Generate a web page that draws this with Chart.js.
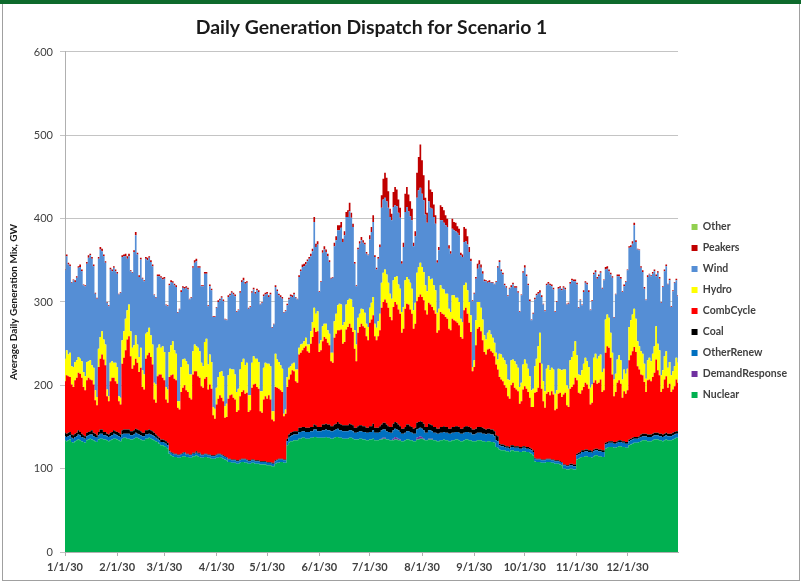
<!DOCTYPE html>
<html><head><meta charset="utf-8">
<script src="https://cdn.jsdelivr.net/npm/chart.js@4.4.1/dist/chart.umd.min.js"></script>
<style>
html,body{margin:0;padding:0;background:#fff;}
#wrap{position:relative;width:801px;height:583px;overflow:hidden;}
#bar{position:absolute;left:0;top:0;width:801px;height:4px;background:#0e6a2c;}
#frame{position:absolute;left:2px;top:4px;width:796px;height:576px;border:1px solid #a0a0a0;border-top:none;pointer-events:none;}
canvas{position:absolute;left:0;top:0;}
</style></head>
<body><div id="wrap"><canvas id="c" width="801" height="583"></canvas><div id="bar"></div><div id="frame"></div></div>
<script>
// Month tick positions (day index within 2030) and labels
const monthStarts = [0,31,59,90,120,151,181,212,243,273,304,334];
const monthLabels = ['1/1/30','2/1/30','3/1/30','4/1/30','5/1/30','6/1/30','7/1/30','8/1/30','9/1/30','10/1/30','11/1/30','12/1/30'];
const yTicks = [0,100,200,300,400,500,600];

// Daily values, GW (one row per Mon-Sun week; first row starts Tue 1/1/30)
const nuclear = [
134,133,134,135,132,131,
133,134,135,134,133,132,131,
134,135,136,135,134,133,132,
135,136,136,135,135,134,133,
134,135,136,136,135,134,133,
136,137,137,136,136,135,135,
136,137,137,136,135,134,134,
136,136,137,136,135,134,133,
132,130,128,128,127,126,124,
118,116,115,114,114,113,113,
114,115,115,114,114,113,113,
115,115,116,115,114,113,113,
114,114,113,113,112,112,112,
113,113,114,113,112,111,110,
108,108,107,107,107,106,106,
107,108,108,107,107,106,106,
107,107,106,106,106,105,105,
105,105,104,104,104,103,103,
106,107,107,108,108,107,107,
128,131,133,133,134,134,134,
136,136,137,137,136,136,136,
137,137,138,138,137,137,137,
137,137,138,137,137,136,136,
137,138,138,137,137,136,136,
136,136,137,137,136,135,135,
135,136,136,135,135,134,134,
135,135,136,134,134,134,135,
135,136,136,135,135,134,134,
134,135,135,134,134,133,133,
134,135,135,134,134,133,133,
135,135,136,136,135,134,134,
135,135,135,134,134,133,133,
134,134,135,134,134,133,133,
134,134,135,135,134,133,133,
134,135,135,134,134,133,133,
133,134,134,134,133,133,132,
133,133,132,132,131,126,125,
123,122,122,122,121,121,120,
122,122,121,121,121,120,120,
121,121,120,120,119,118,116,
109,108,108,108,107,107,107,
108,108,108,107,107,106,106,
106,105,104,100,100,99,99,
100,100,99,99,111,112,113,
114,114,115,115,114,114,113,
115,116,116,115,115,114,114,
124,125,126,126,126,125,125,
126,127,127,126,126,125,125,
128,129,130,131,131,131,132,
133,134,134,134,133,133,133,
134,135,135,135,134,134,133,
134,135,134,134,134,135,136,
137,137];

const demandResponse = [
0,0,0,0,0,0,
0,0,0,0,0,0,0, 0,0,0,0,0,0,0, 0,0,0,0,0,0,0, 0,0,0,0,0,0,0,
0,0,0,0,0,0,0, 0,0,0,0,0,0,0, 0,0,0,0,0,0,0, 0,0,0,0,0,0,0,
0,0,0,0,0,0,0, 0,0,0,0,0,0,0, 0,0,0,0,0,0,0, 0,0,0,0,0,0,0,
0,0,0,0,0,0,0, 0,0,0,0,0,0,0, 0,0,0,0,0,0,0, 0,0,0,0,0,0,0,
0,0,0,0,0,0,0, 0,0,0,0,0,0,0, 0,0,0,0,0,0,0, 0,0,0,0,0,0,0,
0,0,0,0,0,0,0, 0,0,0,0,0,0,0, 0,0,0,0,0,0,0, 0,0,0,0,0,0,0,
0,0,0,0,0,0,0, 0,0,0,0,0,0,0,
1,1,1,0,0,0,0,
2,3,2,2,1,0,0,
0,0,0,0,0,0,0,
2,3,3,2,1,0,0,
1,1,1,0,0,0,0,
0,0,0,0,0,0,0, 0,0,0,0,0,0,0, 0,0,0,0,0,0,0, 0,0,0,0,0,0,0,
0,0,0,0,0,0,0, 0,0,0,0,0,0,0, 0,0,0,0,0,0,0, 0,0,0,0,0,0,0,
0,0,0,0,0,0,0, 0,0,0,0,0,0,0, 0,0,0,0,0,0,0, 0,0,0,0,0,0,0,
0,0,0,0,0,0,0, 0,0,0,0,0,0,0, 0,0,0,0,0,0,0, 0,0,0,0,0,0,0,
0,0,0,0,0,0,0, 0,0,0,0,0,0,0, 0,0,0,0,0,0,0, 0,0,0,0,0,0,0,
0,0];

const otherRenew = [
5,5,5,5,5,5,
5,5,6,6,5,5,5,
5,5,5,6,5,5,5,
5,6,6,5,5,5,5,
5,5,6,5,5,5,5,
5,5,5,6,6,5,5,
5,6,5,5,5,5,5,
5,5,5,5,5,5,4,
4,4,4,4,4,4,4,
3,3,3,3,3,3,3,
3,3,4,3,3,3,3,
3,3,3,3,4,3,3,
3,3,3,3,3,3,3,
3,4,3,3,3,3,3,
3,3,3,3,3,3,3,
3,3,3,4,3,3,3,
3,3,3,3,3,3,3,
3,3,3,3,3,3,3,
3,3,4,3,3,3,3,
5,6,6,7,7,7,7,
8,8,8,8,8,8,8,
8,8,9,9,8,8,8,
9,9,9,9,9,9,9,
9,9,10,9,9,9,9,
9,9,9,9,9,8,8,
9,9,9,9,9,9,9,
9,9,10,9,9,9,9,
10,10,10,10,9,9,9,
10,10,10,10,9,9,9,
9,10,10,10,9,9,9,
10,10,10,10,10,9,9,
10,10,9,9,9,9,9,
9,9,9,9,9,9,9,
9,9,9,9,9,9,9,
9,9,9,9,9,8,8,
9,9,9,9,9,9,9,
9,9,9,9,8,8,8,
5,5,5,4,4,4,4,
4,4,4,4,4,4,4,
4,4,4,4,4,4,4,
3,3,3,3,3,3,3,
3,3,3,3,3,3,3,
3,3,3,4,4,4,4,
4,4,4,4,5,5,5,
6,6,6,6,6,6,6,
6,6,6,6,6,6,6,
5,5,5,5,5,5,5,
5,5,5,5,5,5,5,
5,5,5,5,5,5,5,
5,5,5,5,5,5,5,
5,5,5,5,5,5,5,
5,5,5,5,5,5,5,
5,5];

const coal = [
4,4,4,4,4,4,
4,4,5,4,4,3,3,
4,4,4,5,4,4,3,
4,5,5,4,4,3,3,
4,4,4,4,4,4,3,
5,5,5,5,5,5,5,
5,5,5,5,5,4,4,
5,5,5,5,5,4,4,
3,3,3,3,3,3,3,
1,1,1,1,1,1,1,
1,1,1,1,1,1,1,
1,1,2,1,1,1,1,
1,1,1,1,1,1,1,
1,1,1,1,1,1,1,
1,1,1,1,1,1,1,
1,1,1,1,1,1,1,
1,1,1,1,1,1,1,
1,1,1,1,1,1,1,
1,1,1,1,1,1,1,
3,4,4,4,4,4,4,
5,5,5,5,5,5,5,
5,5,6,5,5,5,5,
7,7,7,7,7,6,6,
7,7,8,8,7,7,7,
7,7,8,7,7,6,6,
7,7,7,7,7,6,6,
7,7,8,6,6,6,7,
7,8,8,8,7,7,7,
8,8,8,7,7,6,6,
7,8,8,7,7,6,7,
8,8,8,8,8,7,7,
8,7,7,7,7,6,6,
7,7,7,7,7,6,6,
7,7,7,7,7,6,6,
7,7,7,7,6,6,6,
6,7,7,7,7,6,6,
6,6,6,6,6,6,6,
2,2,2,2,2,2,2,
2,2,2,2,2,2,2,
2,2,2,2,2,2,2,
1,1,1,1,1,1,1,
1,1,1,1,1,1,1,
1,1,1,1,1,1,1,
2,2,2,2,2,2,2,
2,2,2,2,2,2,2,
2,2,2,2,2,2,2,
2,2,2,2,2,2,2,
2,2,2,2,2,2,2,
2,2,2,2,2,2,2,
3,3,3,3,3,3,3,
3,3,3,3,3,3,3,
3,3,3,3,3,3,3,
3,3];

const combCycle = [
62,70,68,66,60,58,
64,66,69,70,67,58,55,
63,65,62,60,58,40,36,
78,85,90,87,80,45,40,
62,65,63,60,58,38,36,
80,86,95,108,112,90,75,
78,84,80,70,76,55,52,
86,90,92,88,80,40,38,
72,76,78,74,72,50,48,
88,92,94,90,88,56,54,
74,78,80,76,74,68,66,
94,98,96,92,90,82,80,
90,92,78,84,80,48,44,
60,66,70,68,65,46,48,
72,76,78,74,72,58,60,
76,80,82,78,80,58,60,
86,90,92,88,86,60,58,
74,78,76,80,75,52,50,
88,86,84,82,80,52,55,
62,66,70,74,72,60,58,
88,90,92,95,98,92,90,
100,108,116,112,115,90,92,
100,105,102,98,95,78,76,
104,108,110,112,114,98,100,
115,118,120,116,112,95,80,
112,118,122,120,118,110,105,
124,128,130,110,105,110,115,
140,145,148,146,142,132,128,
140,144,142,138,135,115,120,
142,145,144,140,136,120,125,
146,150,152,150,148,140,135,
145,144,142,140,136,115,118,
138,136,134,132,130,120,118,
130,128,126,124,122,110,108,
140,142,135,125,115,70,75,
100,118,120,115,105,92,90,
95,96,94,92,90,85,80,
80,78,76,72,70,60,58,
72,75,70,68,66,52,55,
68,72,70,66,60,50,52,
78,80,85,115,85,70,62,
78,80,76,82,78,60,62,
80,82,78,84,86,72,70,
90,92,96,104,88,72,70,
72,76,80,78,74,55,58,
80,82,78,80,84,70,72,
108,115,112,100,80,55,60,
70,72,68,52,60,58,62,
95,100,104,108,102,85,80,
72,70,62,50,65,66,64,
68,72,88,75,70,50,55,
65,68,55,60,50,52,55,
62,58];

const hydro = [
27,30,26,29,22,24,
22,21,19,18,20,18,17,
22,20,23,18,20,12,10,
22,26,28,24,25,8,6,
22,20,18,22,20,6,8,
28,32,38,35,38,30,25,
24,28,22,18,24,20,18,
30,28,30,26,24,20,22,
34,36,32,38,34,15,16,
30,36,40,34,32,8,10,
30,34,32,35,33,28,30,
28,32,30,34,32,28,26,
44,46,30,36,32,10,12,
20,26,28,32,30,14,16,
28,32,30,34,30,24,26,
32,36,38,34,36,20,18,
30,34,30,34,32,24,26,
38,40,42,38,40,10,12,
40,34,32,30,28,3,5,
12,14,10,8,10,14,16,
8,10,8,8,10,8,10,
15,18,24,22,24,10,12,
18,16,18,15,14,10,12,
20,24,30,32,30,22,24,
30,32,30,34,30,22,20,
18,16,18,20,18,15,16,
18,20,22,15,15,18,20,
30,35,36,34,30,28,26,
32,30,34,30,30,25,26,
34,32,30,32,30,22,25,
34,36,38,36,34,30,28,
32,30,34,30,28,24,26,
32,30,30,28,30,24,22,
28,30,28,30,28,22,20,
30,30,28,25,20,5,8,
30,32,30,28,25,20,18,
20,22,20,18,16,14,12,
28,30,28,30,28,20,22,
30,28,32,30,28,20,22,
30,32,30,28,26,20,22,
32,40,50,36,30,24,20,
30,32,30,28,30,20,22,
30,28,32,30,28,24,22,
34,36,40,44,30,22,22,
24,28,30,28,26,20,22,
30,32,30,32,30,24,26,
40,38,36,30,26,20,22,
28,30,28,22,26,24,26,
40,42,44,46,40,30,28,
28,26,22,16,24,26,24,
28,32,40,32,30,20,22,
28,30,24,26,20,22,24,
26,24];

const wind = [
106,113,108,104,100,104,
96,99,107,110,108,104,108,
118,124,126,128,122,116,118,
108,105,96,100,98,104,108,
112,108,114,110,112,122,126,
100,90,75,62,58,72,90,
112,120,108,96,106,110,112,
90,86,84,88,94,105,104,
86,82,84,80,88,98,100,
80,76,70,78,80,106,110,
90,86,84,88,90,90,92,
100,98,102,96,100,92,96,
82,78,70,82,86,108,110,
96,90,86,88,90,104,100,
94,88,92,90,94,96,94,
92,96,94,98,96,104,106,
84,80,78,82,84,104,106,
86,82,84,80,86,100,104,
80,82,80,82,84,121,118,
86,82,84,80,82,86,84,
85,88,92,90,88,100,103,
90,85,103,80,80,62,70,
88,89,86,89,86,89,90,
90,88,90,88,92,100,104,
105,100,105,98,96,80,70,
82,84,82,80,82,84,86,
82,85,90,80,70,75,80,
90,88,86,88,90,92,94,
88,86,84,86,85,58,72,
82,84,82,80,82,77,80,
90,92,90,88,86,85,82,
90,86,84,82,80,60,70,
78,82,80,82,80,72,70,
80,78,80,78,80,76,78,
52,50,55,60,65,79,80,
50,40,45,48,55,65,70,
60,58,62,66,70,85,110,
110,100,100,90,92,100,110,
88,90,88,92,90,90,105,
110,110,105,100,90,84,90,
80,76,63,48,80,92,96,
100,98,102,98,96,98,106,
96,98,96,98,96,97,102,
92,92,84,72,85,80,90,
78,86,90,92,90,93,100,
100,98,96,96,98,100,106,
60,55,56,70,90,74,95,
100,95,98,105,100,110,118,
95,88,85,100,92,110,115,
100,98,90,94,100,100,102,
96,90,60,85,86,87,100,
102,102,100,98,82,96,100,
93,80];

const peakers = [
1,2,2,2,1,1,
2,2,2,3,2,1,1,
2,3,2,2,2,1,1,
2,3,3,2,2,1,1,
2,2,2,2,2,1,1,
2,2,3,3,3,1,1,
2,4,2,2,2,1,1,
2,3,2,2,2,1,1,
2,2,2,2,2,1,1,
2,2,2,2,2,1,1,
2,2,2,2,2,1,1,
2,3,3,2,2,1,1,
2,2,1,2,2,1,1,
1,2,2,2,2,1,1,
2,2,2,2,2,1,1,
2,2,3,2,2,1,1,
2,2,2,2,2,1,1,
2,2,2,2,2,1,1,
2,2,2,2,2,1,1,
2,2,2,2,2,1,1,
2,2,3,3,3,2,2,
3,3,6,4,4,1,1,
3,4,3,3,2,1,1,
4,5,6,6,7,4,5,
6,8,10,6,4,2,1,
2,3,4,3,2,2,1,
5,6,8,2,2,2,3,
15,25,30,28,20,10,8,
18,22,20,16,12,3,5,
22,24,20,18,14,4,6,
30,40,52,40,30,20,12,
25,22,20,15,10,3,4,
18,16,15,12,10,4,3,
12,10,10,8,8,3,3,
18,15,10,6,3,1,1,
2,6,5,4,3,2,1,
2,2,1,1,1,1,2,
2,2,2,2,2,1,1,
2,2,2,2,2,1,1,
2,3,2,2,2,1,1,
2,2,2,3,2,1,1,
2,2,2,2,2,1,1,
2,2,2,2,2,1,1,
2,2,2,2,2,1,1,
1,2,2,2,2,1,1,
2,2,2,2,2,1,1,
3,3,2,2,2,1,1,
2,2,2,1,2,1,1,
2,2,3,3,2,1,1,
2,2,2,1,2,1,1,
2,2,2,2,2,1,1,
2,2,1,2,1,1,1,
2,1];

const other = [
0,0,0,0,0,0,
0,0,0,0,0,0,0, 0,0,0,0,0,0,0, 0,0,0,0,0,0,0, 0,0,0,0,0,0,0,
0,0,0,0,0,0,0, 0,0,0,0,0,0,0, 0,0,0,0,0,0,0, 0,0,0,0,0,0,0,
0,0,0,0,0,0,0, 0,0,0,0,0,0,0, 0,0,0,0,0,0,0, 0,0,0,0,0,0,0,
0,0,0,0,0,0,0, 0,0,0,0,0,0,0, 0,0,0,0,0,0,0, 0,0,0,0,0,0,0,
0,0,0,0,0,0,0, 0,0,0,0,0,0,0, 0,0,0,0,0,0,0, 0,0,0,0,0,0,0,
0,0,0,0,0,0,0, 0,0,0,0,0,0,0, 0,0,0,0,0,0,0, 0,0,0,0,0,0,0,
0,0,0,0,0,0,0, 0,0,0,0,0,0,0, 0,0,0,0,0,0,0, 0,0,0,0,0,0,0,
0,0,0,0,0,0,0, 0,0,0,0,0,0,0, 0,0,0,0,0,0,0, 0,0,0,0,0,0,0,
0,0,0,0,0,0,0, 0,0,0,0,0,0,0, 0,0,0,0,0,0,0, 0,0,0,0,0,0,0,
0,0,0,0,0,0,0, 0,0,0,0,0,0,0, 0,0,0,0,0,0,0, 0,0,0,0,0,0,0,
0,0,0,0,0,0,0, 0,0,0,0,0,0,0, 0,0,0,0,0,0,0, 0,0,0,0,0,0,0,
0,0,0,0,0,0,0, 0,0,0,0,0,0,0, 0,0,0,0,0,0,0, 0,0,0,0,0,0,0,
0,0,0,0,0,0,0, 0,0,0,0,0,0,0, 0,0,0,0,0,0,0,
0,0];

const seriesNames = ['Nuclear','DemandResponse','OtherRenew','Coal','CombCycle','Hydro','Wind','Peakers','Other'];
const seriesData = [nuclear, demandResponse, otherRenew, coal, combCycle, hydro, wind, peakers, other];
const seriesColors = ['#00B050','#7030A0','#0070C0','#000000','#FF0000','#FFFF00','#558ED5','#C00000','#92D050'];

seriesData.forEach((d, k) => { if (d.length !== 365) console.error(seriesNames[k] + ' length ' + d.length); });

const FONT = "Lato, 'Open Sans', 'DejaVu Sans', sans-serif";
const days = nuclear.map((v, i) => i);

const datasets = seriesNames.map((name, k) => ({
  label: name,
  data: seriesData[k],
  backgroundColor: seriesColors[k],
  borderColor: seriesColors[k],
  borderWidth: 0,
  pointRadius: 0,
  pointHoverRadius: 0,
  fill: k === 0 ? 'origin' : '-1',
  stepped: 'middle'
}));

new Chart(document.getElementById('c'), {
  type: 'line',
  data: { labels: days, datasets },
  options: {
    responsive: false,
    animation: false,
    events: [],
    layout: { padding: { left: 4, right: 4, top: 0, bottom: 0 } },
    plugins: {
      title: {
        display: true, text: 'Daily Generation Dispatch for Scenario 1', fullSize: false,
        color: '#1a1a1a', font: { family: FONT, size: 19.4, weight: 'bold' },
        padding: { top: 16, bottom: 12.7 }
      },
      legend: {
        position: 'right', fullSize: false, reverse: true, align: 'center',
        title: { display: true, text: ' ', font: { family: FONT, size: 10 }, padding: { top: 2, bottom: 4 } },
        labels: { boxWidth: 6, boxHeight: 6, padding: 10.5, color: '#404040',
          font: { family: FONT, size: 10.5, weight: 'bold' } }
      },
      tooltip: { enabled: false },
      filler: { propagate: false }
    },
    scales: {
      x: {
        type: 'linear', min: 0, max: 364,
        afterBuildTicks: s => { s.ticks = monthStarts.map(v => ({ value: v })); },
        ticks: { autoSkip: false, maxRotation: 0, padding: 5, color: '#404040',
          font: { family: FONT, size: 11, weight: 'bold' },
          callback: v => monthLabels[monthStarts.indexOf(v)] },
        grid: { drawOnChartArea: false, drawTicks: true, tickLength: 4, color: '#b0b0b0' },
        border: { color: '#b0b0b0' },
        afterFit: s => { s.height = 31; }
      },
      y: {
        stacked: true, min: 0, max: 600,
        afterBuildTicks: s => { s.ticks = yTicks.map(v => ({ value: v })); },
        ticks: { padding: 7, color: '#404040', font: { family: FONT, size: 11 } },
        grid: { color: '#c4c4c4', tickLength: 5 },
        border: { color: '#b0b0b0' },
        title: { display: true, text: 'Average Daily Generation Mix, GW', color: '#1a1a1a',
          font: { family: FONT, size: 10, weight: 'bold' }, padding: { top: 4, bottom: 0 } },
        afterFit: s => { s.width = 61; }
      },
      gap: {
        type: 'linear', position: 'right', display: true, min: 0, max: 1,
        ticks: { display: false }, grid: { display: false }, border: { display: false },
        afterFit: s => { s.width = 3; }
      }
    }
  }
});
</script>
</body></html>
